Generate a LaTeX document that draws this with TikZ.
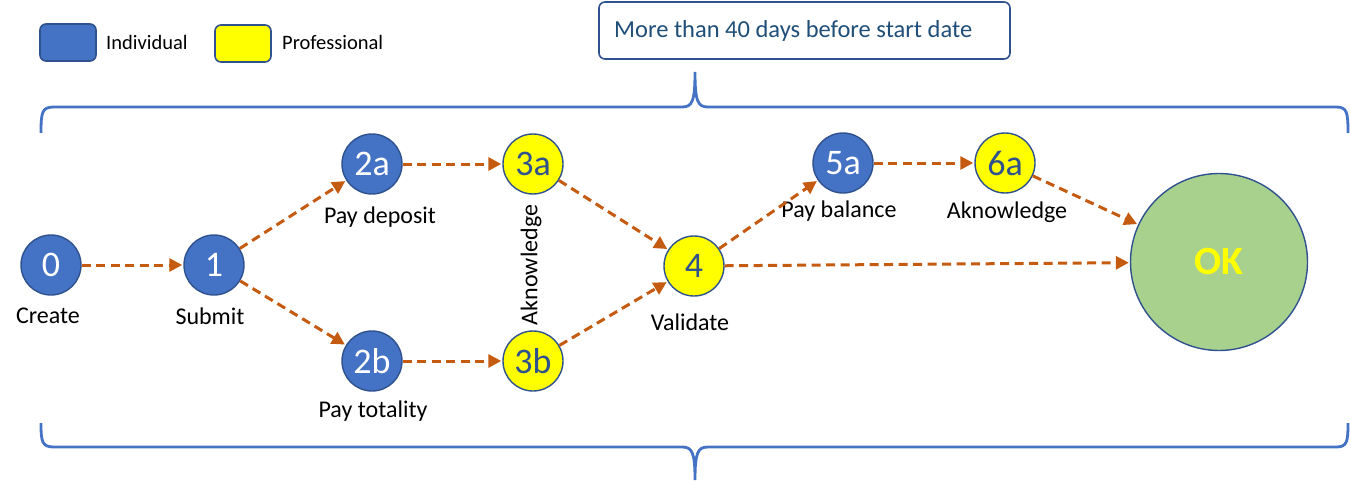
\documentclass[tikz,border=0pt]{standalone}
\usepackage{fontspec}
\setmainfont{Carlito}
\usetikzlibrary{arrows.meta}
\definecolor{cblue}{HTML}{4472C4}
\definecolor{cborder}{HTML}{2F528F}
\definecolor{cyel}{HTML}{FFFF00}
\definecolor{cgreen}{HTML}{A9D18E}
\definecolor{corange}{HTML}{C55A11}
\definecolor{ctext}{HTML}{1F4E79}
\begin{document}
\begin{tikzpicture}[x=1pt,y=-1pt,
 ind/.style={circle, fill=cblue, draw=cborder, line width=1.4pt, minimum size=60pt, inner sep=0pt, text=white, font=\fontsize{36}{38}\selectfont},
 pro/.style={ind, fill=cyel, text=cborder},
 lbl/.style={font=\fontsize{24}{26}\selectfont, inner sep=0pt},
 leg/.style={font=\fontsize{20.5}{22}\selectfont, inner sep=0pt, anchor=west},
 legbox/.style={rounded corners=6pt, draw=cborder, line width=1.6pt, minimum width=56pt, minimum height=37pt, inner sep=0pt},
 flow/.style={draw=corange, line width=3pt, dash pattern=on 9pt off 5.5pt, -{Triangle[length=13pt,width=13pt]}, shorten >=1pt},
 brace/.style={draw=cblue, line width=2.8pt},
]
\useasboundingbox (0,0) rectangle (1351,484);
% legend
\node[legbox, fill=cblue] (li) at (68,42.5) {};
\node[leg] (lit) at (106,42) {Individual};
\node[legbox, fill=cyel] (lp) at (243,43.5) {};
\node[leg] (lpt) at (282,42) {Professional};
% callout
\node[draw=cborder, line width=1.6pt, rounded corners=6pt, minimum width=411pt, minimum height=57pt, inner sep=0pt] (call) at (804.5,30.5) {};
\node[anchor=west, inner sep=0pt, text=ctext, font=\fontsize{24.5}{28}\selectfont] (callt) at (614,31) {More than 40 days before start date};
% braces
\draw[brace] (41,133) .. controls (41,112) and (42,107) .. (54,107) -- (682,107) .. controls (692,107) and (695,102) .. (695,72)
  .. controls (695,102) and (698,107) .. (708,107) -- (1336,107) .. controls (1347,107) and (1348,112) .. (1348,133);
\draw[brace] (41,423) .. controls (41,442) and (42,447) .. (54,447) -- (682,447) .. controls (692,447) and (695,452) .. (695,480)
  .. controls (695,452) and (698,447) .. (708,447) -- (1336,447) .. controls (1347,447) and (1348,442) .. (1348,423);
% nodes
\node[ind] (n0) at (51,265) {0};
\node[ind] (n1) at (214,265) {1};
\node[ind] (n2a) at (372,164) {2a};
\node[ind] (n2b) at (372,361) {2b};
\node[pro] (n3a) at (533,164) {3a};
\node[pro] (n3b) at (533,361) {3b};
\node[pro] (n4) at (694,266) {4};
\node[ind] (n5a) at (843,163) {5a};
\node[pro] (n6a) at (1005,163) {6a};
\node[circle, fill=cgreen, draw=cborder, line width=1.4pt, minimum size=177pt, inner sep=0pt, text=cyel, font=\fontsize{40}{42}\selectfont\bfseries] (ok) at (1219,262) {OK};
% labels
\node[lbl] (l0) at (48,316) {Create};
\node[lbl] (l1) at (210,316) {Submit};
\node[lbl] (l2a) at (380,217) {Pay deposit};
\node[lbl] (l2b) at (373,411) {Pay totality};
\node[lbl, rotate=90] (l3) at (531,265) {Aknowledge};
\node[lbl] (l4) at (690,322) {Validate};
\node[lbl] (l5a) at (839,211) {Pay balance};
\node[lbl] (l6a) at (1007,212) {Aknowledge};
% connectors
\draw[flow] (n0) -- (n1);
\draw[flow] (n1) -- (n2a);
\draw[flow] (n1) -- (n2b);
\draw[flow] (n2a) -- (n3a);
\draw[flow] (n2b) -- (n3b);
\draw[flow] (n3a) -- (n4);
\draw[flow] (n3b) -- (n4);
\draw[flow] (n4) -- (n5a);
\draw[flow] (n5a) -- (n6a);
\draw[flow] (n6a) -- (ok);
\draw[flow] (n4) -- (ok);
\end{tikzpicture}
\end{document}
